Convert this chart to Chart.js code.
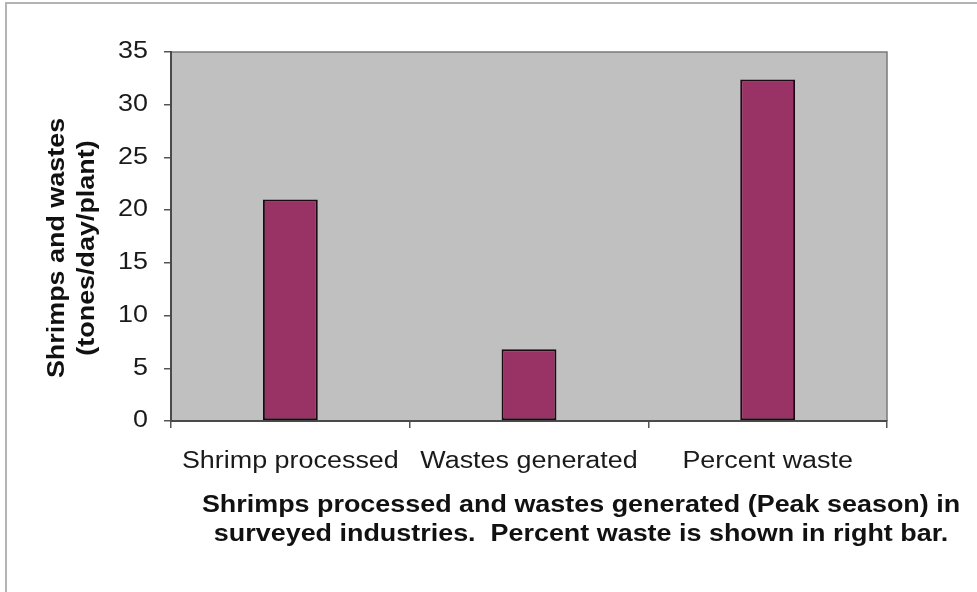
<!DOCTYPE html>
<html>
<head>
<meta charset="utf-8">
<script src="https://cdn.jsdelivr.net/npm/chart.js@4"></script>
<style>
  html, body { margin: 0; padding: 0; background: #fff; }
  #wrap { width: 977px; height: 592px; }
</style>
</head>
<body>
<div id="wrap"><canvas id="shrimp-chart" width="977" height="592"></canvas></div>
<script>
const categories = ['Shrimp processed', 'Wastes generated', 'Percent waste'];
const values = [21, 6.8, 32.4];
const yMin = 0;
const yMax = 35;
const yStep = 5;
const yTitle = ['Shrimps and wastes', '(tones/day/plant)'];
const caption = [
  'Shrimps processed and wastes generated (Peak season) in',
  'surveyed industries.  Percent waste is shown in right bar.'
];

const FONT = "'Liberation Sans', Arial, sans-serif";
const WIDE = 1.17; // the slide fonts render wider than plain Arial

// draw one line of text, widened along its reading direction
function wideText(ctx, text, x, y, align) {
  ctx.save();
  ctx.translate(x, y);
  ctx.scale(WIDE, 1);
  ctx.textAlign = align;
  ctx.fillText(text, 0, 0);
  ctx.restore();
}

// grey plot area, its thin frame and the outer slide border
const backdrop = {
  id: 'backdrop',
  beforeDraw(chart) {
    const { ctx, chartArea: a } = chart;
    ctx.save();
    ctx.fillStyle = '#fff';
    ctx.fillRect(0, 0, chart.width, chart.height);

    ctx.strokeStyle = '#b4b4b4';
    ctx.lineWidth = 2;
    ctx.beginPath();
    ctx.moveTo(6, chart.height);
    ctx.lineTo(6, 3);
    ctx.lineTo(chart.width, 3);
    ctx.stroke();

    ctx.fillStyle = '#c0c0c0';
    ctx.fillRect(a.left, a.top, a.right - a.left, a.bottom - a.top);
    ctx.strokeStyle = '#7a7a7a';
    ctx.lineWidth = 1.5;
    ctx.beginPath();
    ctx.moveTo(a.left, a.top);
    ctx.lineTo(a.right, a.top);
    ctx.lineTo(a.right, a.bottom);
    ctx.stroke();
    ctx.restore();
  }
};

// tick labels, rotated y title and the bold caption, all in the wide slide font
const slideText = {
  id: 'slideText',
  afterDraw(chart) {
    const { ctx } = chart;
    const xs = chart.scales.x;
    const ys = chart.scales.y;
    ctx.save();
    ctx.fillStyle = '#1a1a1a';

    ctx.font = '23px ' + FONT;
    ctx.textBaseline = 'middle';
    ys.ticks.forEach((t, i) => wideText(ctx, String(t.value), 148, ys.getPixelForTick(i), 'right'));

    ctx.textBaseline = 'alphabetic';
    xs.ticks.forEach((t, i) => wideText(ctx, categories[t.value], xs.getPixelForTick(i), 468, 'center'));

    ctx.fillStyle = '#111';
    ctx.font = 'bold 23px ' + FONT;
    caption.forEach((line, i) => wideText(ctx, line, 581, 512 + i * 29, 'center'));

    ctx.textBaseline = 'middle';
    ctx.translate(0, 248);
    ctx.rotate(-Math.PI / 2);
    yTitle.forEach((line, i) => wideText(ctx, line, 0, 58 + i * 30, 'center'));
    ctx.restore();
  }
};

const ctx = document.getElementById('shrimp-chart').getContext('2d');

new Chart(ctx, {
  type: 'bar',
  data: {
    labels: categories,
    datasets: [{
      data: values,
      backgroundColor: '#993366',
      borderColor: '#1e0a14',
      borderWidth: 2,
      borderSkipped: false,
      categoryPercentage: 1,
      barPercentage: 0.23,
    }],
  },
  options: {
    responsive: false,
    animation: false,
    devicePixelRatio: 1,
    layout: { padding: { top: 52, right: 90, left: 0, bottom: 0 } },
    scales: {
      x: {
        grid: { drawOnChartArea: false, drawTicks: true, tickLength: 7, color: '#555', lineWidth: 1.5 },
        border: { display: true, color: '#4a4a4a', width: 2 },
        ticks: { display: false },
        afterFit: (s) => { s.height = 171; },
      },
      y: {
        min: yMin,
        max: yMax,
        grid: { drawOnChartArea: false, drawTicks: true, tickLength: 7, color: '#555', lineWidth: 1.5 },
        border: { display: true, color: '#4a4a4a', width: 2 },
        ticks: { stepSize: yStep, display: false },
        afterFit: (s) => { s.width = 171; },
      },
    },
    plugins: {
      legend: { display: false },
      tooltip: { enabled: false },
    },
  },
  plugins: [backdrop, slideText],
});
</script>
</body>
</html>
